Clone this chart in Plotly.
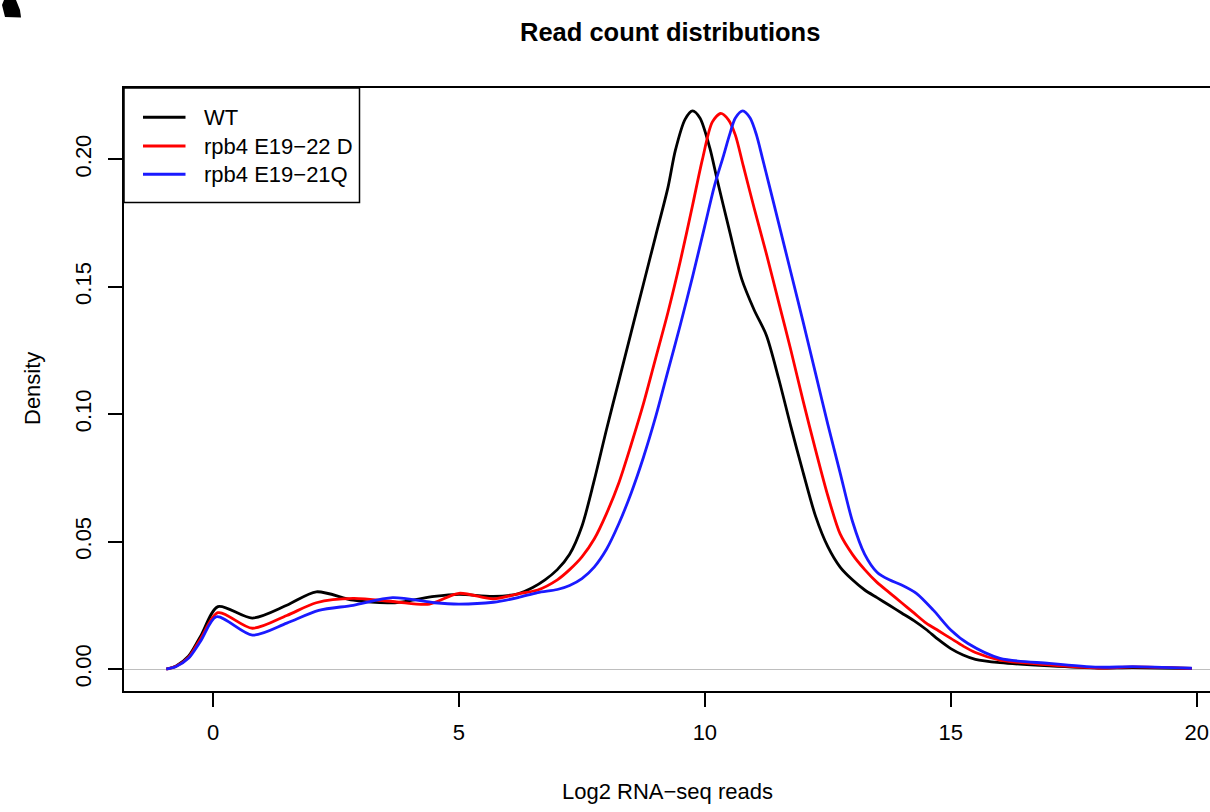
import plotly.graph_objects as go

# ---- data ----
wt_x = [-0.95, -0.75, -0.5, -0.25, 0.1, 0.8, 1.5, 2.1, 2.85, 3.7, 4.5, 5.0, 5.7, 6.2, 6.5,
        6.75, 7.0, 7.25, 7.5, 7.75, 8.0, 8.25, 8.5, 8.75, 9.0, 9.25, 9.4, 9.6, 9.75, 9.9,
        10.1, 10.25, 10.5, 10.75, 11.0, 11.25, 11.5, 11.75, 12.0, 12.25, 12.5, 12.75,
        13.0, 13.25, 13.5, 13.75, 14.0, 14.25, 14.5, 14.75, 15.0, 15.25, 15.5, 16.0,
        17.0, 18.0, 18.7, 19.9]
wt_y = [0.0, 0.0012, 0.005, 0.013, 0.0245, 0.020, 0.025, 0.0303, 0.027, 0.026, 0.0285,
        0.0293, 0.0285, 0.0295, 0.032, 0.035, 0.039, 0.045, 0.056, 0.074, 0.094, 0.113,
        0.132, 0.151, 0.170, 0.189, 0.2035, 0.2158, 0.219, 0.2162, 0.2045, 0.192, 0.172,
        0.153, 0.141, 0.131, 0.114, 0.095, 0.077, 0.060, 0.048, 0.040, 0.035, 0.031,
        0.028, 0.025, 0.022, 0.019, 0.0155, 0.0115, 0.008, 0.0055, 0.0038, 0.0025,
        0.0012, 0.0004, 0.0006, 0.0002]

rpb4_d_x = [-0.95, -0.75, -0.5, -0.25, 0.1, 0.8, 1.5, 2.1, 2.85, 3.7, 4.4, 5.0, 5.7, 6.2,
            6.6, 7.0, 7.25, 7.5, 7.75, 8.0, 8.25, 8.5, 8.75, 9.0, 9.25, 9.5, 9.75, 9.95,
            10.15, 10.32, 10.48, 10.62, 10.78, 11.0, 11.25, 11.5, 11.75, 12.0, 12.25,
            12.5, 12.75, 13.0, 13.25, 13.5, 13.75, 14.0, 14.25, 14.5, 14.75, 15.0, 15.25,
            15.5, 16.0, 17.0, 18.0, 18.7, 19.9]
rpb4_d_y = [0.0, 0.0011, 0.0045, 0.012, 0.0221, 0.016, 0.021, 0.026, 0.0277, 0.0264,
            0.0255, 0.0297, 0.0275, 0.0295, 0.031, 0.035, 0.039, 0.044, 0.051, 0.061,
            0.073, 0.088, 0.104, 0.122, 0.140, 0.160, 0.182, 0.200, 0.2146, 0.218, 0.2155,
            0.2095, 0.1975, 0.181, 0.163, 0.144, 0.125, 0.105, 0.086, 0.068, 0.053, 0.045,
            0.039, 0.034, 0.030, 0.026, 0.022, 0.018, 0.015, 0.012, 0.009, 0.0065, 0.0035,
            0.0016, 0.0004, 0.0008, 0.0002]

rpb4_q_x = [-0.95, -0.75, -0.5, -0.25, 0.07, 0.8, 1.5, 2.15, 2.85, 3.65, 4.5, 5.0, 5.7,
            6.2, 6.6, 7.0, 7.25, 7.5, 7.75, 8.0, 8.25, 8.5, 8.75, 9.0, 9.25, 9.5, 9.75,
            10.0, 10.2, 10.38, 10.5, 10.62, 10.77, 10.92, 11.05, 11.17, 11.3, 11.5, 11.75,
            12.0, 12.25, 12.5, 12.75, 13.0, 13.25, 13.5, 13.75, 14.0, 14.3, 14.65, 15.0,
            15.35, 16.0, 17.0, 18.0, 18.7, 19.9]
rpb4_q_y = [0.0, 0.001, 0.0042, 0.011, 0.0205, 0.0133, 0.018, 0.023, 0.025, 0.028, 0.026,
            0.0255, 0.0262, 0.028, 0.030, 0.0312, 0.0328, 0.0355, 0.040, 0.047, 0.057,
            0.069, 0.083, 0.099, 0.117, 0.135, 0.154, 0.174, 0.190, 0.2015, 0.2095,
            0.2162, 0.219, 0.2162, 0.2095, 0.2005, 0.1905, 0.175, 0.1555, 0.136, 0.116,
            0.096, 0.077, 0.058, 0.045, 0.038, 0.035, 0.033, 0.0297, 0.023, 0.0153, 0.010,
            0.0042, 0.0022, 0.0007, 0.0009, 0.0003]

series_names = ["WT", "rpb4 E19\u221222 D", "rpb4 E19\u221221Q"]
series_colors = ["#000000", "#FF0000", "#1A1AFF"]
x_ticks = [0, 5, 10, 15, 20]
y_ticks = [0.00, 0.05, 0.10, 0.15, 0.20]
y_tick_text = ["0.00", "0.05", "0.10", "0.15", "0.20"]

# ---- layout geometry (pixels) ----
W, H = 1210, 812
L, R, T, B = 124, 0, 88, 121
PW, PH = W - L - R, H - T - B
FONT = "Liberation Sans, Arial, sans-serif"


def px(xp):
    return (xp - L) / PW


def py(yp):
    return (H - B - yp) / PH


fig = go.Figure()
for xs, ys, name, col in zip([wt_x, rpb4_d_x, rpb4_q_x], [wt_y, rpb4_d_y, rpb4_q_y],
                             series_names, series_colors):
    fig.add_trace(go.Scatter(x=xs, y=ys, mode="lines", name=name,
                             line=dict(color=col, width=2.8, shape="spline", smoothing=0.8),
                             showlegend=False))

shapes = []
annotations = []

# legend box
shapes.append(dict(type="rect", xref="paper", yref="paper",
                   x0=px(124), x1=px(359.5), y0=py(202.5), y1=py(88),
                   line=dict(color="black", width=1.5), fillcolor="white", layer="above"))
rows = [117.3, 146, 174.3]
for yy, name, col in zip(rows, series_names, series_colors):
    shapes.append(dict(type="line", xref="paper", yref="paper",
                       x0=px(143), x1=px(185.5), y0=py(yy), y1=py(yy),
                       line=dict(color=col, width=3), layer="above"))
    annotations.append(dict(text=name, xref="paper", yref="paper", x=px(202), y=py(yy),
                            xanchor="left", yanchor="middle", showarrow=False,
                            font=dict(family=FONT, size=22, color="black")))

# corner artifact (cropped panel letter)
shapes.append(dict(type="path", xref="paper", yref="paper",
                   path="M {} {} L {} {} L {} {} L {} {} L {} {} L {} {} Z".format(
                       px(2), py(5), px(5), py(17), px(21), py(17.5), px(20), py(10),
                       px(16), py(0), px(4), py(0)),
                   fillcolor="black", line=dict(color="black", width=0)))

# titles
annotations.append(dict(text="<b>Read count distributions</b>", xref="paper", yref="paper",
                        x=px(670), y=py(32), xanchor="center", yanchor="middle",
                        showarrow=False, font=dict(family=FONT, size=25.5, color="black")))
annotations.append(dict(text="Log2 RNA\u2212seq reads", xref="paper", yref="paper",
                        x=px(667), y=py(791), xanchor="center", yanchor="middle",
                        showarrow=False, font=dict(family=FONT, size=22, color="black")))
annotations.append(dict(text="Density", xref="paper", yref="paper",
                        x=px(33), y=py(389), xanchor="center", yanchor="middle",
                        textangle=-90, showarrow=False,
                        font=dict(family=FONT, size=22, color="black")))

fig.update_layout(
    width=W, height=H,
    margin=dict(l=L, r=R, t=T, b=B, pad=0),
    paper_bgcolor="white", plot_bgcolor="white",
    font=dict(family=FONT, size=22, color="black"),
    shapes=shapes, annotations=annotations,
    xaxis=dict(range=[-1.81, 20.27], tickvals=x_ticks, ticks="outside", ticklen=14,
               tickwidth=1.5, tickcolor="black", showline=True, linecolor="black",
               linewidth=1.5, mirror=True, showgrid=False, zeroline=False,
               ticklabelstandoff=7,
               tickfont=dict(family=FONT, size=22, color="black")),
    yaxis=dict(range=[-0.00863, 0.228], tickvals=y_ticks, ticktext=y_tick_text,
               ticks="outside", ticklen=14, tickwidth=1.5, tickcolor="black",
               tickangle=-90, showline=True, linecolor="black", linewidth=1.5,
               mirror=False, showgrid=False, zeroline=True, zerolinecolor="#BEBEBE",
               zerolinewidth=1, ticklabelstandoff=8,
               tickfont=dict(family=FONT, size=22, color="black")),
)

fig.write_html("out.html")
